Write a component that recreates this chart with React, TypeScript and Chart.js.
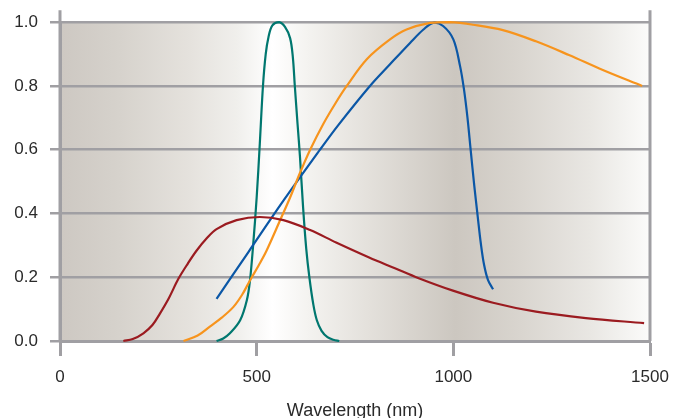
import React, { useEffect, useRef } from "react";
import { Chart, registerables } from "chart.js";

Chart.register(...registerables);

// Wavelength (nm) / relative value pairs
const tealX = [398, 415, 432, 458, 475, 483, 491, 500, 508, 516, 523, 530, 540, 557, 572, 585, 592, 597, 604, 610, 618, 626, 634, 644, 653, 665, 680, 695, 710];
const tealY = [0, 0.008, 0.024, 0.065, 0.128, 0.19, 0.3, 0.45, 0.62, 0.8, 0.9, 0.953, 0.99, 1.0, 0.985, 0.95, 0.89, 0.8, 0.68, 0.58, 0.42, 0.29, 0.2, 0.115, 0.065, 0.032, 0.012, 0.004, 0];

const orangeX = [314, 350, 381, 412, 441, 463, 483, 505, 525, 559, 585, 610, 636, 669, 700, 729, 780, 839, 881, 941, 991, 1050, 1126, 1210, 1294, 1380, 1480];
const orangeY = [0, 0.017, 0.045, 0.074, 0.107, 0.145, 0.19, 0.237, 0.283, 0.377, 0.45, 0.527, 0.6, 0.68, 0.745, 0.8, 0.884, 0.946, 0.977, 0.998, 1.0, 0.992, 0.975, 0.94, 0.897, 0.85, 0.8];

const blueX = [398, 479, 568, 661, 708, 788, 839, 890, 924, 949, 974, 1000, 1017, 1027, 1036, 1044, 1053, 1062, 1070, 1078, 1088, 1101];
const blueY = [0.132, 0.279, 0.44, 0.6, 0.678, 0.8, 0.868, 0.935, 0.977, 0.998, 0.988, 0.946, 0.863, 0.79, 0.7, 0.6, 0.49, 0.39, 0.305, 0.24, 0.192, 0.162];

const redX = [161, 185, 212, 235, 254, 277, 301, 325, 347, 373, 398, 449, 508, 568, 636, 702, 786, 850, 912, 999, 1101, 1210, 1337, 1485];
const redY = [0, 0.006, 0.024, 0.05, 0.086, 0.135, 0.195, 0.243, 0.283, 0.322, 0.351, 0.379, 0.389, 0.379, 0.348, 0.309, 0.262, 0.229, 0.197, 0.158, 0.12, 0.092, 0.072, 0.056];

const xTicks = [0, 500, 1000, 1500];
const yTicks = [0, 0.2, 0.4, 0.6, 0.8, 1.0];
const xTitle = "Wavelength (nm)";

const pts = (xs: number[], ys: number[]) => xs.map((x, i) => ({ x, y: ys[i] }));

const GRID = "#a09fa3";
const FAMILY = "'Liberation Sans', Arial, Helvetica, sans-serif";
const FONT = { family: FAMILY, size: 17 };

const bgPlugin = {
  id: "bg",
  beforeDraw(chart: any) {
    const { ctx, chartArea: a } = chart;
    const g = ctx.createLinearGradient(a.left, 0, a.right, 0);
    const stops: [number, string][] = [
      [0, "#cdc8c2"], [0.1, "#d6d2cc"], [0.22, "#e5e2dd"], [0.3, "#f0efec"],
      [0.36, "#ffffff"], [0.42, "#f4f3f0"], [0.52, "#e4e1dc"], [0.67, "#ccc7c0"],
      [0.78, "#d9d5cf"], [0.9, "#e9e7e3"], [1, "#fbfbfa"],
    ];
    stops.forEach(([o, c]) => g.addColorStop(o, c));
    ctx.save();
    ctx.fillStyle = g;
    ctx.fillRect(a.left, a.top, a.right - a.left, a.bottom - a.top);
    ctx.restore();
  },
  afterDraw(chart: any) {
    const { ctx, chartArea: a } = chart;
    ctx.save();
    ctx.strokeStyle = GRID;
    ctx.lineWidth = 3;
    ctx.beginPath();
    ctx.moveTo(a.left, a.top - 12);
    ctx.lineTo(a.left, a.bottom);
    ctx.moveTo(a.right, a.top - 12);
    ctx.lineTo(a.right, a.bottom);
    ctx.stroke();
    ctx.restore();
  },
};

export default function App() {
  const ref = useRef<HTMLCanvasElement>(null);
  useEffect(() => {
    document.body.style.margin = "0";
    const mk = (label: string, xs: number[], ys: number[], color: string) => ({
      label,
      data: pts(xs, ys),
      borderColor: color,
      borderWidth: 2.2,
      pointRadius: 0,
      tension: 0.35,
      clip: false as any,
      fill: false,
    });
    const chart = new Chart(ref.current!, {
      type: "line",
      data: {
        datasets: [
          mk("red", redX, redY, "#9b1b20"),
          mk("orange", orangeX, orangeY, "#f7941d"),
          mk("blue", blueX, blueY, "#0b57a6"),
          mk("teal", tealX, tealY, "#00776f"),
        ],
      },
      options: {
        animation: false,
        responsive: false,
        layout: { padding: { top: 20, right: 26, left: 0, bottom: 0 } },
        plugins: { legend: { display: false }, tooltip: { enabled: false } },
        scales: {
          x: {
            type: "linear",
            min: 0,
            max: 1500,
            afterBuildTicks: (s: any) => { s.ticks = xTicks.map((v) => ({ value: v })); },
            afterFit: (s: any) => { s.height = 77; s.paddingLeft = 0; s.paddingRight = 0; },
            ticks: { font: FONT, color: "#2a2a2a", padding: 11, maxRotation: 0, callback: (v: any) => String(v) },
            grid: { drawOnChartArea: false, drawTicks: true, tickLength: 15, tickWidth: 3, tickColor: GRID, color: GRID },
            border: { display: true, color: GRID, width: 3 },
            title: { display: true, text: xTitle, font: { family: FAMILY, size: 18, lineHeight: 0.75 }, color: "#2a2a2a", padding: { top: 0, bottom: 0 } },
          },
          y: {
            type: "linear",
            min: 0,
            max: 1,
            afterBuildTicks: (s: any) => { s.ticks = yTicks.map((v) => ({ value: v })); },
            afterFit: (s: any) => { s.width = 60; },
            ticks: { font: FONT, color: "#2a2a2a", padding: 12, callback: (v: any) => Number(v).toFixed(1) },
            grid: { color: GRID, lineWidth: 2.5, tickLength: 10, tickWidth: 2.5, tickColor: GRID },
            border: { display: true, color: GRID, width: 3 },
          },
        },
      },
      plugins: [bgPlugin],
    });
    return () => chart.destroy();
  }, []);
  return (
    <div style={{ position: "absolute", left: 0, top: 0, width: 676, height: 418 }}>
      <canvas ref={ref} width={676} height={418} />
    </div>
  );
}
